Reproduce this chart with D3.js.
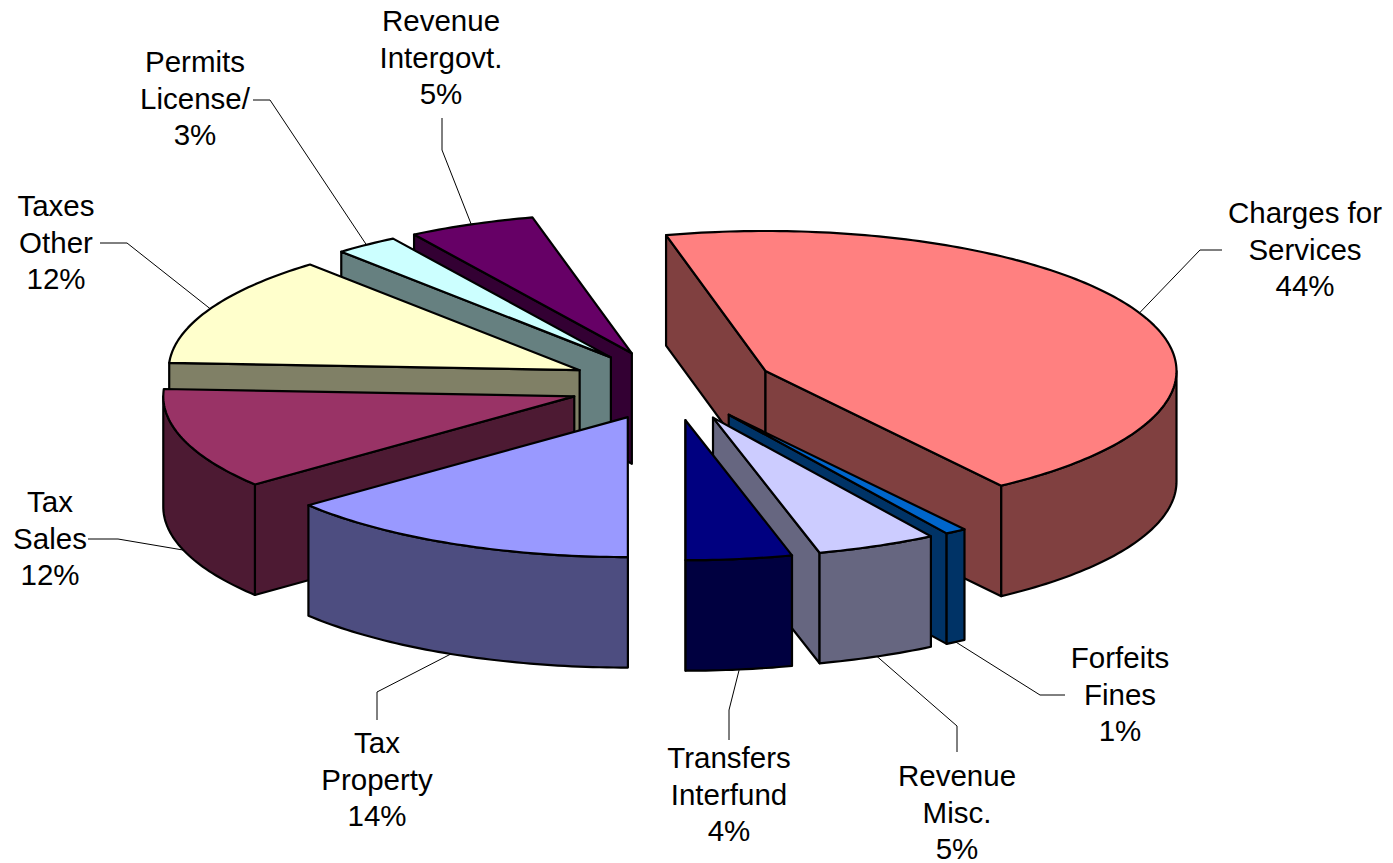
<!DOCTYPE html>
<html><head><meta charset="utf-8">
<style>html,body{margin:0;padding:0;background:#fff}svg{display:block}text{font-family:"Liberation Sans",Arial,sans-serif;font-size:29.5px;fill:#000}</style>
<script src="https://cdn.jsdelivr.net/npm/d3@7"></script></head><body>
<script>
// Data, in pie order, clockwise
const categories = [["Charges for","Services"],["Forfeits","Fines"],["Revenue","Misc."],["Transfers","Interfund"],["Tax","Property"],["Tax","Sales"],["Taxes","Other"],["Permits","License/"],["Revenue","Intergovt."]];
const shares = [44.17,0.83,4.72,4.17,14.17,11.67,12.78,2.5,5.0];
const percentLabels = ["44%","1%","5%","4%","14%","12%","12%","3%","5%"];
const topColors = ["#FF8080","#0066CC","#CCCCFF","#000080","#9999FF","#993366","#FFFFCC","#CCFFFF","#660066"];
// Layout
const W=1393,H=863, cx=672, cy=385.5, rx=411, ry=140, depth=110.5, explode=0.25, startDeg=-14;
// [elbow x, elbow y, end x, end y, label centre x, first baseline y]
const leaders = [[1200,250,1222,250,1305,223],[1040,695,1065,695,1120,668],[957,726,957,752,957,786],[729,710,729,740,729,768],[377,692,377,720,377,753],[118,539,88,539,50,512],[127,243,100,243,56,216],[270,100,253,100,195,72],[442,150,442,118,441,31]];
const drawOrder = [0,1,2,3,8,7,6,5,4];

const svg=d3.select("body").append("svg").attr("width",W).attr("height",H);
const arcs=d3.pie().sort(null).startAngle(startDeg*Math.PI/180).endAngle((startDeg+360)*Math.PI/180)(shares);
const xs=d3.scaleLinear().domain([-1,1]).range([-rx,rx]);
const ys=d3.scaleLinear().domain([-1,1]).range([-ry,ry]);
const pt=(c,a,r=1)=>[c[0]+xs(r*Math.sin(a)),c[1]+ys(-r*Math.cos(a))];
const centre=d=>pt([cx,cy],(d.startAngle+d.endAngle)/2,explode);
const down=p=>[p[0],p[1]+depth];
const arcPts=(c,a0,a1)=>{const n=Math.max(2,Math.ceil((a1-a0)/(Math.PI/180)));return d3.range(n+1).map(i=>pt(c,a0+(a1-a0)*i/n));};
const line=d3.line();
const paths=(g,pts,fill)=>g.append("path").attr("d",line(pts)+"Z").attr("fill",fill).attr("stroke","#000").attr("stroke-width",2.2).attr("stroke-linejoin","round");

drawOrder.forEach(i=>{
  const d=arcs[i],c=centre(d),g=svg.append("g");
  const top=topColors[i],side=d3.interpolateRgb(top,"#000")(0.5);
  // Only the cut faces turned towards the viewer are drawn
  if(Math.sin(d.startAngle)<0){const p=pt(c,d.startAngle);paths(g,[c,p,down(p),down(c)],side);}
  if(Math.sin(d.endAngle)>0){const p=pt(c,d.endAngle);paths(g,[c,p,down(p),down(c)],side);}
  const a0=Math.max(d.startAngle,Math.PI/2),a1=Math.min(d.endAngle,Math.PI*1.5);
  if(a1>a0){const o=arcPts(c,a0,a1);paths(g,o.concat(o.map(down).reverse()),side);}
  paths(g,[c].concat(arcPts(c,d.startAngle,d.endAngle)),top);
});

arcs.forEach((d,i)=>{
  const m=(d.startAngle+d.endAngle)/2,c=centre(d);let p=pt(c,m);
  if(Math.cos(m)<0)p=down(p);
  const l=leaders[i];
  svg.append("path").attr("d",line([p,[l[0],l[1]],[l[2],l[3]]])).attr("fill","none").attr("stroke","#000").attr("stroke-width",1);
  const t=svg.append("text").attr("text-anchor","middle");
  categories[i].concat(percentLabels[i]).forEach((s,k)=>t.append("tspan").attr("x",l[4]).attr("y",l[5]+k*36.6).text(s));
});
</script></body></html>
